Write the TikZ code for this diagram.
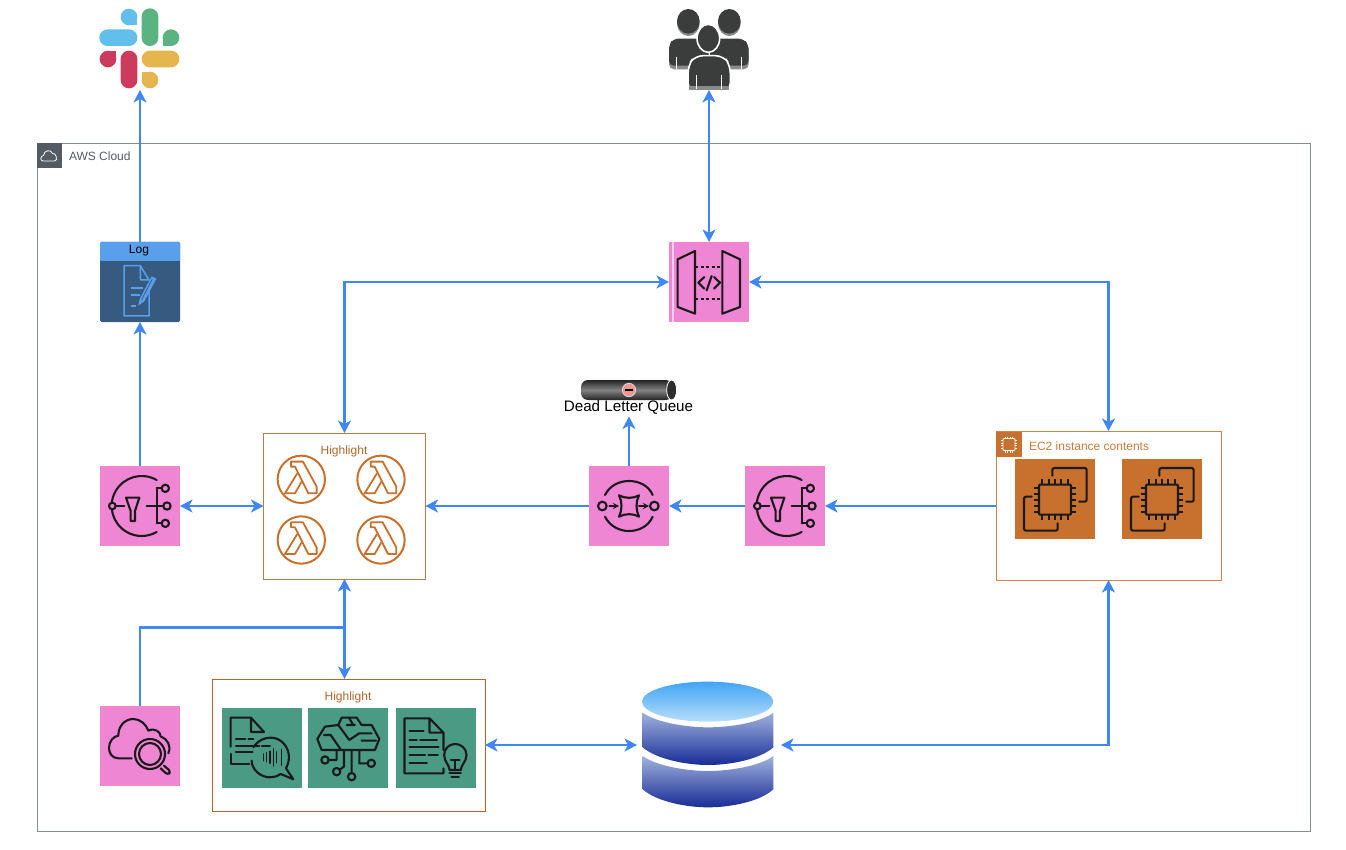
\documentclass[tikz,border=0pt]{standalone}
\usepackage{fontspec}
\setmainfont{Liberation Sans}
\usetikzlibrary{arrows.meta,calc}
\definecolor{cpink}{HTML}{EE86D4}
\definecolor{cwire}{HTML}{3F87F5}
\definecolor{cink}{HTML}{1A1A1A}
\definecolor{corange}{HTML}{C8702D}
\definecolor{cgreen}{HTML}{4A9A84}
\definecolor{cframe}{HTML}{858C92}
\definecolor{cdark}{HTML}{545B64}
\definecolor{cbrownA}{HTML}{BF7A45}
\definecolor{cbrownB}{HTML}{B5652A}
\definecolor{cbrownC}{HTML}{D6814A}
\definecolor{ctxtA}{HTML}{B0672A}
\definecolor{ctxtB}{HTML}{CF7A3E}
\definecolor{clogH}{HTML}{5A9FEC}
\definecolor{clogB}{HTML}{375A80}
\definecolor{cuser}{HTML}{3B3D3D}
\definecolor{cuserG}{HTML}{8A8A8A}
\definecolor{cslackB}{HTML}{62BFEC}
\definecolor{cslackG}{HTML}{5BB381}
\definecolor{cslackR}{HTML}{CC3A5E}
\definecolor{cslackY}{HTML}{E5B54F}
\tikzset{
  tileshape/.style={rectangle,minimum width=80pt,minimum height=80pt,inner sep=0pt,outer sep=0pt},
  pinktile/.style={tileshape,fill=cpink},
  greentile/.style={tileshape,fill=cgreen},
  orangetile/.style={tileshape,fill=corange},
  groupbox/.style={rectangle,inner sep=0pt,outer sep=0pt,line width=.9pt,fill=white},
  txt/.style={inner sep=0pt,outer sep=0pt,font=\fontsize{12}{14}\selectfont},
  wiretip/.tip={Stealth[length=12.5pt,width=13pt,inset=3.5pt]},
  oneway/.style={draw=cwire,line width=2.4pt,-{wiretip}},
  twoway/.style={draw=cwire,line width=2.4pt,{wiretip}-{wiretip}},
  ico/.style={draw=cink,line width=2.1pt,line cap=round,line join=round},
  zoomed/.style={x=.33333pt,y=-.33333pt},
  snsicon/.pic={\begin{scope}[zoomed,shift={(-150,-243)}]
    \draw[ico] (155,243)+(-60:90) arc[start angle=-60,end angle=-300,radius=90];
    \draw[ico,fill=cpink] (67,243) circle[radius=10];
    \draw[ico] (77,243)--(103,243);
    \draw[ico] (108,218)--(148,218)--(135,258)--(135,288)--(122,288)--(122,258)--cycle;
    \draw[ico] (170,243)--(220,243) (200,190)--(200,295) (200,190)--(215,190) (200,295)--(215,295);
    \draw[ico,fill=cpink] (226,190) circle[radius=11] (231,243) circle[radius=11] (226,295) circle[radius=11];
  \end{scope}},
  sqsicon/.pic={\begin{scope}[zoomed,shift={(-237,-408)}]
    \draw[ico] (165,375) .. controls (180,345) and (210,333) .. (237,333) .. controls (265,333) and (295,345) .. (308,375);
    \draw[ico] (165,440) .. controls (180,470) and (210,483) .. (237,483) .. controls (265,483) and (295,470) .. (308,440);
    \draw[ico] (157,408) circle[radius=13] (313,408) circle[radius=13];
    \draw[ico] (207,376) .. controls (225,386) and (250,386) .. (267,376) .. controls (257,395) and (257,420) .. (267,440) .. controls (250,430) and (225,430) .. (207,440) .. controls (217,420) and (217,395) .. (207,376) -- cycle;
    \draw[ico,-{Stealth[length=6pt,width=6pt]}] (178,408)--(207,408);
    \draw[ico,-{Stealth[length=6pt,width=6pt]}] (267,408)--(297,408);
  \end{scope}},
  apiicon/.pic={\begin{scope}[zoomed,shift={(-147,-140)}]
    \fill[white!60!cpink] (37,20) rectangle (41,260);
    \draw[ico] (53,72)--(105,47)--(105,235)--(53,215)--cycle;
    \draw[ico] (187,47)--(240,72)--(240,215)--(187,235)--cycle;
    \draw[ico,dash pattern=on 3pt off 2.5pt,line cap=butt] (105,95)--(187,95) (105,190)--(187,190);
    \draw[ico] (133,125)--(115,142)--(133,160) (155,122)--(140,165) (162,125)--(180,142)--(162,160);
  \end{scope}},
  lambdaicon/.pic={\begin{scope}[zoomed]
    \draw[draw=corange,line width=2pt] (0,0) circle[radius=71];
    \draw[draw=corange,line width=1.8pt,line join=round] (-31,-53)--(5,-53)--(46,22)--(46,42)--(21,42)--(-19,-38)--(-31,-38)--cycle;
    \draw[draw=corange,line width=1.8pt,line join=round] (-12,-18)--(-49,42)--(-19,42)--(1,7);
  \end{scope}},
  ecicon/.pic={\begin{scope}[zoomed,shift={(-195,-220)}]
    \draw[ico,rounded corners=2pt] (187,150)--(187,127)--(290,127)--(290,228)--(268,228);
    \draw[ico,rounded corners=2pt] (125,213)--(102,213)--(102,315)--(203,315)--(203,293);
    \draw[ico,rounded corners=1pt] (147,177) rectangle (243,267);
    \foreach \t in {157,176,195,214,233}{\draw[ico,line cap=butt] (\t,177)--(\t,160) (\t,267)--(\t,284);}
    \foreach \t in {186,204,222,240,258}{\draw[ico,line cap=butt] (147,\t)--(132,\t) (243,\t)--(257,\t);}
  \end{scope}},
  searchicon/.pic={\begin{scope}[zoomed,shift={(-150,-226)}]
    \draw[ico] (125,263)--(85,263) .. controls (65,263) and (57,245) .. (57,232) .. controls (57,212) and (70,197) .. (85,195) .. controls (85,165) and (105,145) .. (130,145) .. controls (150,145) and (168,160) .. (175,180) .. controls (195,170) and (212,185) .. (212,197) .. controls (232,205) and (245,225) .. (235,248);
    \draw[ico] (180,250) circle[radius=45] (180,250) circle[radius=33];
    \draw[ico,rounded corners=3pt] (222,285)--(243,303)--(233,313)--(212,293);
  \end{scope}},
  speechicon/.pic={\begin{scope}[zoomed,shift={(-517,-235)}]
    \draw[ico] (422,230)--(422,143)--(483,143)--(522,186)--(483,186)--(483,143);
    \draw[ico] (438,207)--(466,207) (475,207)--(490,207) (438,228)--(508,228) (516,228)--(540,228) (438,246)--(488,246);
    \draw[ico] (422,252)--(422,283)--(478,283);
    \draw[ico] (490,232) .. controls (505,210) and (525,203) .. (542,203) .. controls (575,203) and (597,232) .. (597,262) .. controls (597,275) and (592,288) .. (588,295) -- (610,328) -- (572,312) .. controls (560,320) and (550,322) .. (540,322) .. controls (510,322) and (485,297) .. (485,272);
    \foreach \a/\b in {520/10,530/14,540/18,550/26,560/16,574/24}{\draw[ico,line width=1.5pt] (\a,262-\b)--(\a,262+\b);}
  \end{scope}},
  brainicon/.pic={\begin{scope}[zoomed,shift={(-775,-235)}]
    \draw[ico] (695,240)--(682,207)--(705,170)--(745,165)--(755,143)--(800,143)--(815,165)--(845,165)--(868,207)--(855,240)--cycle;
    \draw[ico] (702,195)--(722,195)--(752,238) (745,165)--(778,210) (770,165)--(795,165) (808,190)--(845,190) (808,190)--(778,210) (815,212)--(858,212) (778,145)--(790,165);
    \draw[ico] (740,240)--(740,270)--(716,270) (762,240)--(762,290)--(748,300) (785,240)--(785,309) (808,240)--(808,280)--(833,280);
    \draw[ico] (705,270) circle[radius=11] (740,305) circle[radius=11] (785,320) circle[radius=11] (844,280) circle[radius=11];
  \end{scope}},
  bulbicon/.pic={\begin{scope}[zoomed,shift={(-1036,-235)}]
    \draw[ico] (1060,240)--(1060,188)--(1018,145)--(943,145)--(943,310)--(1060,310)--(1060,295) (1018,145)--(1018,188)--(1060,188);
    \draw[ico] (958,184)--(1000,184) (958,210)--(980,210) (990,210)--(1040,210) (958,232)--(1045,232) (958,255)--(1005,255) (1015,255)--(1043,255) (958,278)--(1010,278);
    \draw[ico] (1078,300) .. controls (1078,285) and (1062,275) .. (1062,255) .. controls (1062,235) and (1078,222) .. (1095,222) .. controls (1112,222) and (1129,235) .. (1129,255) .. controls (1129,275) and (1112,285) .. (1112,300) -- cycle;
    \draw[ico] (1082,270)--(1108,270) (1095,270)--(1095,300) (1078,310)--(1112,310) (1084,322)--(1106,322);
  \end{scope}},
  logicon/.pic={\begin{scope}[zoomed,shift={(-331,-441)}]
    \draw[clogH,line width=1.5pt,line join=round] (358,470)--(358,543)--(283,543)--(283,392)--(332,392)--(358,435)--(332,435)--(332,392);
    \draw[clogH,line width=2pt] (303,460)--(340,460) (303,480)--(330,480) (303,512)--(320,512);
    \fill[clogH] (326,512)--(330,492)--(366,424)--(380,431)--(344,499)--cycle;
    \draw[clogB,line width=.7pt] (336,494)--(368,432);
  \end{scope}},
  slackicon/.pic={\begin{scope}[zoomed,shift={(-180,-147)}]
    \fill[cslackB] (147,51) circle[radius=25];
    \fill[cslackB] (147,51) rectangle (172,76);
    \fill[cslackB,rounded corners=8.2pt] (58,88) rectangle (172,138);
    \fill[cslackG,rounded corners=8.2pt] (185,25) rectangle (235,138);
    \fill[cslackG] (273,113) circle[radius=25];
    \fill[cslackG] (248,113) rectangle (273,138);
    \fill[cslackR] (84,177) circle[radius=25];
    \fill[cslackR] (84,152) rectangle (109,177);
    \fill[cslackR,rounded corners=8.2pt] (122,152) rectangle (172,265);
    \fill[cslackY,rounded corners=8.2pt] (185,152) rectangle (298,202);
    \fill[cslackY] (210,240) circle[radius=25];
    \fill[cslackY] (185,215) rectangle (210,240);
  \end{scope}},
  usersicon/.pic={\begin{scope}[zoomed,shift={(-207,-150)}]
    \foreach \c in {145,268}{
      \fill[cuserG] (\c,70) ellipse[x radius=34,y radius=38];
      \fill[cuser] (\c,64) ellipse[x radius=34,y radius=37];}
    \fill[cuserG,rounded corners=5pt] (87,208) -- (87,135) -- (100,118) -- (190,118) -- (207,150) -- (207,208) -- cycle;
    \fill[cuserG,rounded corners=5pt] (207,208) -- (207,150) -- (225,118) -- (310,118) -- (326,135) -- (326,208) -- cycle;
    \fill[cuser,rounded corners=5pt] (87,197) -- (87,135) -- (100,116) -- (190,116) -- (205,150) -- (205,197) -- cycle;
    \fill[cuser,rounded corners=5pt] (209,197) -- (209,150) -- (225,116) -- (310,116) -- (326,135) -- (326,197) -- cycle;
    \draw[white,line width=1pt] (108,170)--(108,208) (305,170)--(305,208) (207,145)--(207,175);
    \filldraw[fill=cuser,draw=white,line width=1.6pt] (205,115) ellipse[x radius=34,y radius=42];
    \filldraw[fill=cuser,draw=white,line width=1.6pt,rounded corners=8pt] (144,272) -- (144,196) -- (165,167) -- (250,167) -- (271,196) -- (271,272) -- cycle;
    \fill[cuserG] (147,259) rectangle (268,269);
    \draw[white,line width=1pt] (170,225)--(170,268) (245,225)--(245,268);
  \end{scope}},
  dbicon/.pic={\begin{scope}[zoomed,shift={(-237,-225)}]
    \shade[top color={rgb,255:red,66;green,165;blue,245},bottom color={rgb,255:red,184;green,222;blue,250}] (233,95) ellipse[x radius=197,y radius=60];
    \shade[top color={rgb,255:red,160;green,178;blue,222},bottom color={rgb,255:red,24;green,44;blue,150}] (38,128) .. controls (80,158) and (170,172) .. (234,172) .. controls (300,172) and (390,158) .. (430,128) -- (430,232) .. controls (390,268) and (300,285) .. (234,285) .. controls (170,285) and (80,268) .. (38,232) -- cycle;
    \shade[top color={rgb,255:red,160;green,178;blue,222},bottom color={rgb,255:red,24;green,44;blue,150}] (38,258) .. controls (80,288) and (170,303) .. (234,303) .. controls (300,303) and (390,288) .. (430,258) -- (430,358) .. controls (390,395) and (300,412) .. (234,412) .. controls (170,412) and (80,395) .. (38,358) -- cycle;
  \end{scope}},
  tubeicon/.pic={\begin{scope}[zoomed,shift={(-237,-60)}]
    \shade[top color={rgb,255:red,35;green,35;blue,35},bottom color={rgb,255:red,35;green,35;blue,35},middle color={rgb,255:red,130;green,130;blue,130},rounded corners=7pt] (93,30) rectangle (368,90);
    \filldraw[fill={rgb,255:red,45;green,45;blue,45},draw=white,line width=.8pt] (365,60) ellipse[x radius=15,y radius=30];
    \filldraw[fill={rgb,255:red,240;green,150;blue,140},draw=white!85!black,line width=.8pt] (237,60) circle[radius=20];
    \draw[black,line width=1.6pt] (226,60)--(248,60);
  \end{scope}},
}
\begin{document}
\begin{tikzpicture}[x=1pt,y=-1pt]
\useasboundingbox (0,0) rectangle (1346,850);
\fill[white] (0,0) rectangle (1346,850);

% AWS Cloud frame
\node[rectangle,draw=cframe,line width=.9pt,minimum width=1273pt,minimum height=688pt,inner sep=0pt,outer sep=0pt] (cloudframe) at (673.5,487) {};
\node[rectangle,fill=cdark,minimum width=25.5pt,minimum height=25.5pt,inner sep=0pt,outer sep=0pt] (cloudtag) at (49.5,155.5) {};
\draw[white,line width=.8pt,line join=round] (43,161) .. controls (40,161) and (40,156) .. (43.5,155.5) .. controls (44,150) and (51,149) .. (52.5,153.5) .. controls (56,152) and (58.5,161) .. (54.5,161) -- cycle;
\node[txt,anchor=west,text=cdark] (cloudlabel) at (69,156) {AWS Cloud};

% Outer icons
\node[rectangle,minimum width=82pt,minimum height=82pt,inner sep=0pt,outer sep=0pt] (slack) at (140,49) {};
\pic at (slack) {slackicon};
\node[rectangle,minimum width=80pt,minimum height=80pt,inner sep=0pt,outer sep=0pt] (users) at (709,50) {};
\pic at (users) {usersicon};

% Log
\node[tileshape,fill=clogB,rounded corners=1.5pt] (logbox) at (140,282) {};
\node[rectangle,fill=clogH,minimum width=80pt,minimum height=19pt,inner sep=0pt,outer sep=0pt,rounded corners=1pt] (loghead) at (140,251.5) {};
\node[txt,text=black] (loglabel) at (139,251) {Log};
\pic at (logbox) {logicon};

% Pink tiles
\node[pinktile] (apigw) at (709,282) {};
\pic at (apigw) {apiicon};
\node[pinktile] (snsa) at (140,506) {};
\pic at (snsa) {snsicon};
\node[pinktile] (sqs) at (629,506) {};
\pic at (sqs) {sqsicon};
\node[pinktile] (snsb) at (785,506) {};
\pic at (snsb) {snsicon};
\node[pinktile] (srch) at (140,746) {};
\pic at (srch) {searchicon};

% Lambda group
\node[groupbox,draw=cbrownA,minimum width=162pt,minimum height=146pt] (lam) at (344.5,506) {};
\node[txt,text=ctxtA] (lamlabel) at (344,451) {Highlight};
\pic at (301.3,479.3) {lambdaicon};
\pic at (381,479.3) {lambdaicon};
\pic at (301.3,540) {lambdaicon};
\pic at (381,540) {lambdaicon};

% Dead letter queue
\pic at (629,390) {tubeicon};
\node[inner sep=0pt,outer sep=0pt,minimum height=18pt,font=\fontsize{15.2}{17}\selectfont,text=black] (dlq) at (628.5,407.5) {Dead Letter Queue};

% EC2 group
\node[groupbox,draw=cbrownC,minimum width=225pt,minimum height=149pt] (ecbox) at (1108.5,505.5) {};
\node[rectangle,fill=corange,minimum width=25.5pt,minimum height=25.5pt,inner sep=0pt,outer sep=0pt] (ectag) at (1009,444.5) {};
\draw[white,line width=.8pt,rounded corners=1pt] (1003,438.5) rectangle (1015,450.5);
\foreach \t in {1005,1007.5,1010,1012.5}{\draw[white,line width=.5pt] (\t,436.5)--(\t,438.5) (\t,450.5)--(\t,452.5);}
\foreach \t in {440.5,443,445.5,448}{\draw[white,line width=.5pt] (1001,\t)--(1003,\t) (1015,\t)--(1017,\t);}
\node[txt,anchor=west,text=ctxtB] (eclabel) at (1029,446) {EC2 instance contents};
\node[orangetile] (eca) at (1055,499) {};
\pic at (eca) {ecicon};
\node[orangetile] (ecb) at (1162,499) {};
\pic at (ecb) {ecicon};

% AI group
\node[groupbox,draw=cbrownB,minimum width=273pt,minimum height=132pt] (aibox) at (348.5,745) {};
\node[txt,text=ctxtA] (ailabel) at (348,697) {Highlight};
\node[greentile] (gra) at (262.3,748.3) {};
\pic at (gra) {speechicon};
\node[greentile] (grb) at (348.3,748.3) {};
\pic at (grb) {brainicon};
\node[greentile] (grc) at (435.5,748.3) {};
\pic at (grc) {bulbicon};

% Database
\node[rectangle,minimum width=144pt,minimum height=126pt,inner sep=0pt,outer sep=0pt] (db) at (709,745) {};
\pic at (db) {dbicon};

% Connectors
\coordinate (jn) at (344.5,627.5);
\draw[oneway] (logbox.north) -- (slack.south);
\draw[oneway] (snsa.north) -- (logbox.south);
\draw[twoway] (users.south) -- (apigw.north);
\draw[twoway] (apigw.west) -| (lam.north);
\draw[twoway] (apigw.east) -| (ecbox.north);
\draw[twoway] (snsa.east) -- (lam.west);
\draw[oneway] (ecbox.west |- snsb.east) -- (snsb.east);
\draw[oneway] (snsb.west) -- (sqs.east);
\draw[oneway] (sqs.west) -- (lam.east);
\draw[oneway] (sqs.north) -- (dlq.south -| sqs.north);
\draw[oneway] (srch.north) |- (jn) -- (lam.south);
\draw[oneway] (jn) -- (jn |- aibox.north);
\draw[twoway] (aibox.east) -- (db.west);
\draw[twoway] (db.east) -| (ecbox.south);
\end{tikzpicture}
\end{document}
